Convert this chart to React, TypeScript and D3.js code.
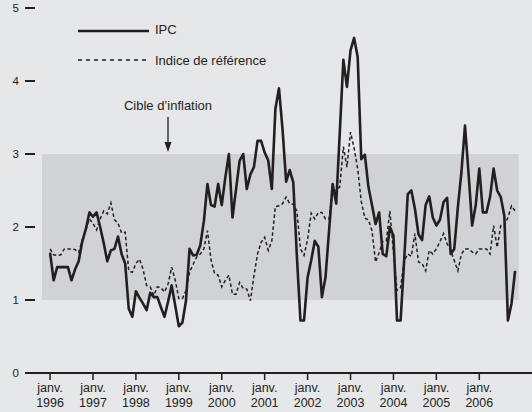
import React from "react";
import * as d3 from "d3";

// Monthly values, janv. 1996 (index 0) to nov. 2006 (index 130)
const ipc: number[] = [
  1.65, 1.27, 1.45, 1.45, 1.45, 1.45, 1.27, 1.42, 1.53, 1.8, 1.97, 2.2,
  2.14, 2.2, 2.0, 1.78, 1.53, 1.68, 1.7, 1.87, 1.63, 1.5, 0.88, 0.77,
  1.12, 1.03, 0.95, 0.86, 1.1, 1.04, 1.04, 0.9, 0.77, 0.98, 1.2, 0.92,
  0.64, 0.69, 0.99, 1.7, 1.61, 1.62, 1.75, 2.08, 2.59, 2.3, 2.28, 2.59,
  2.3, 2.68, 3.0, 2.13, 2.52, 2.91, 3.0, 2.52, 2.72, 2.82, 3.18, 3.18,
  3.02, 2.91, 2.52, 3.62, 3.9, 3.33, 2.62, 2.78, 2.61, 1.6, 0.72, 0.72,
  1.31, 1.54, 1.81, 1.73, 1.04, 1.31, 1.95, 2.59, 2.32, 3.3, 4.29, 3.92,
  4.42, 4.59, 4.33, 2.93, 2.99, 2.55, 2.3, 2.04, 2.2, 1.63, 1.6, 2.0,
  1.88, 0.72, 0.72, 1.55, 2.45, 2.5, 2.25, 1.9, 1.82, 2.3, 2.42, 2.13,
  2.02, 2.1, 2.34, 2.4, 1.63, 1.7, 2.27, 2.75, 3.39, 2.73, 2.02, 2.3,
  2.8, 2.2, 2.2, 2.41, 2.8, 2.5, 2.41, 2.15, 0.72, 0.95, 1.4,
];

const indiceRef: number[] = [
  1.7, 1.62, 1.61, 1.62, 1.7, 1.7, 1.7, 1.69, 1.65, 1.82, 1.96, 2.11,
  2.05, 1.96, 2.11, 2.22, 2.18, 2.33, 2.1, 2.05, 1.92, 1.93, 1.4, 1.38,
  1.5, 1.56, 1.42, 1.2, 1.18, 1.06, 1.18, 1.17, 1.11, 1.22, 1.45, 1.27,
  1.02, 1.02, 1.13, 1.38, 1.49, 1.59, 1.63, 1.7, 1.95, 1.55, 1.36, 1.34,
  1.18, 1.27, 1.34, 1.08, 1.08, 1.24, 1.16, 1.15, 0.99, 1.33, 1.63, 1.79,
  1.86, 1.68, 1.81, 2.28, 2.29, 2.32, 2.41, 2.32, 2.31, 2.22, 1.7, 1.61,
  1.83, 2.19, 2.11, 2.2, 2.2, 2.11, 2.11, 2.5, 2.5, 2.55, 3.1, 2.82,
  3.3, 3.08, 2.8, 2.35, 2.12, 2.1, 1.95, 1.52, 1.65, 1.8, 1.81, 2.22,
  1.65, 1.13, 1.17, 1.54, 1.63, 1.6, 1.91, 1.52, 1.5, 1.4, 1.68, 1.63,
  1.7, 1.8, 1.91, 1.77, 1.68, 1.54, 1.4, 1.63, 1.7, 1.7, 1.66, 1.63,
  1.7, 1.7, 1.7, 1.63, 2.02, 1.72, 2.02, 2.02, 2.13, 2.29, 2.22,
];

const years: number[] = [1996, 1997, 1998, 1999, 2000, 2001, 2002, 2003, 2004, 2005, 2006];
const yTicks: number[] = [0, 1, 2, 3, 4, 5];
const targetBand: [number, number] = [1, 3];
const legendLabels = { ipc: "IPC", ref: "Indice de référence" };
const targetLabel = "Cible d\u2019inflation";
const monthLabel = "janv.";

const W = 532;
const H = 412;
const INK = "#231f20";
const FONT = "'Liberation Sans', Arial, Helvetica, sans-serif";

export default function App() {
  const x = d3.scaleLinear().domain([-2.25, 131]).range([42, 518.65]);
  const y = d3.scaleLinear().domain([0, 5]).range([373, 8]);

  const line = d3
    .line<number>()
    .x((_, i) => x(i))
    .y((d) => y(d))
    .curve(d3.curveLinear);

  const arrowX = 168;

  return (
    <svg
      width={W}
      height={H}
      viewBox={`0 0 ${W} ${H}`}
      style={{ position: "absolute", left: 0, top: 0, display: "block" }}
      fontFamily={FONT}
    >
      <rect x={0} y={0} width={W} height={H} fill="#e6e7e8" />
      {/* target band */}
      <rect
        x={x(-2.25)}
        y={y(targetBand[1])}
        width={x(131) - x(-2.25)}
        height={y(targetBand[0]) - y(targetBand[1])}
        fill="#d1d2d4"
      />

      {/* y ticks */}
      {yTicks.map((t) => (
        <g key={t}>
          <line x1={25} x2={35} y1={y(t)} y2={y(t)} stroke={INK} strokeWidth={2} />
          <text x={19} y={y(t)} dy="0.36em" textAnchor="end" fontSize={11.5} fill={INK}>
            {t}
          </text>
        </g>
      ))}

      {/* x axis */}
      <line x1={25} x2={W} y1={y(0)} y2={y(0)} stroke={INK} strokeWidth={2} />
      {years.map((yr, k) => {
        const xx = x(k * 12);
        return (
          <g key={yr}>
            <line x1={xx} x2={xx} y1={y(0)} y2={y(0) + 7} stroke={INK} strokeWidth={1.5} />
            <text x={xx} y={392} textAnchor="middle" fontSize={12.5} fill={INK}>
              {monthLabel}
            </text>
            <text x={xx} y={407} textAnchor="middle" fontSize={12.5} fill={INK}>
              {yr}
            </text>
          </g>
        );
      })}

      {/* series */}
      <path
        d={line(indiceRef) || ""}
        fill="none"
        stroke={INK}
        strokeWidth={1.5}
        strokeDasharray="3.5,2.5"
      />
      <path
        d={line(ipc) || ""}
        fill="none"
        stroke={INK}
        strokeWidth={2.6}
        strokeLinejoin="round"
      />

      {/* legend */}
      <line x1={78} x2={149} y1={31} y2={31} stroke={INK} strokeWidth={2.6} />
      <text x={155} y={33.5} fontSize={13} fill={INK}>
        {legendLabels.ipc}
      </text>
      <line x1={78} x2={149} y1={60} y2={60} stroke={INK} strokeWidth={1.3} strokeDasharray="4,4" />
      <text x={155} y={65} fontSize={13} fill={INK}>
        {legendLabels.ref}
      </text>

      {/* annotation */}
      <text x={arrowX} y={110} textAnchor="middle" fontSize={13} fill={INK}>
        {targetLabel}
      </text>
      <line x1={arrowX} x2={arrowX} y1={117} y2={144} stroke={INK} strokeWidth={1.3} />
      <polygon
        points={`${arrowX - 3.5},${142} ${arrowX + 3.5},${142} ${arrowX},${152}`}
        fill={INK}
      />
    </svg>
  );
}
